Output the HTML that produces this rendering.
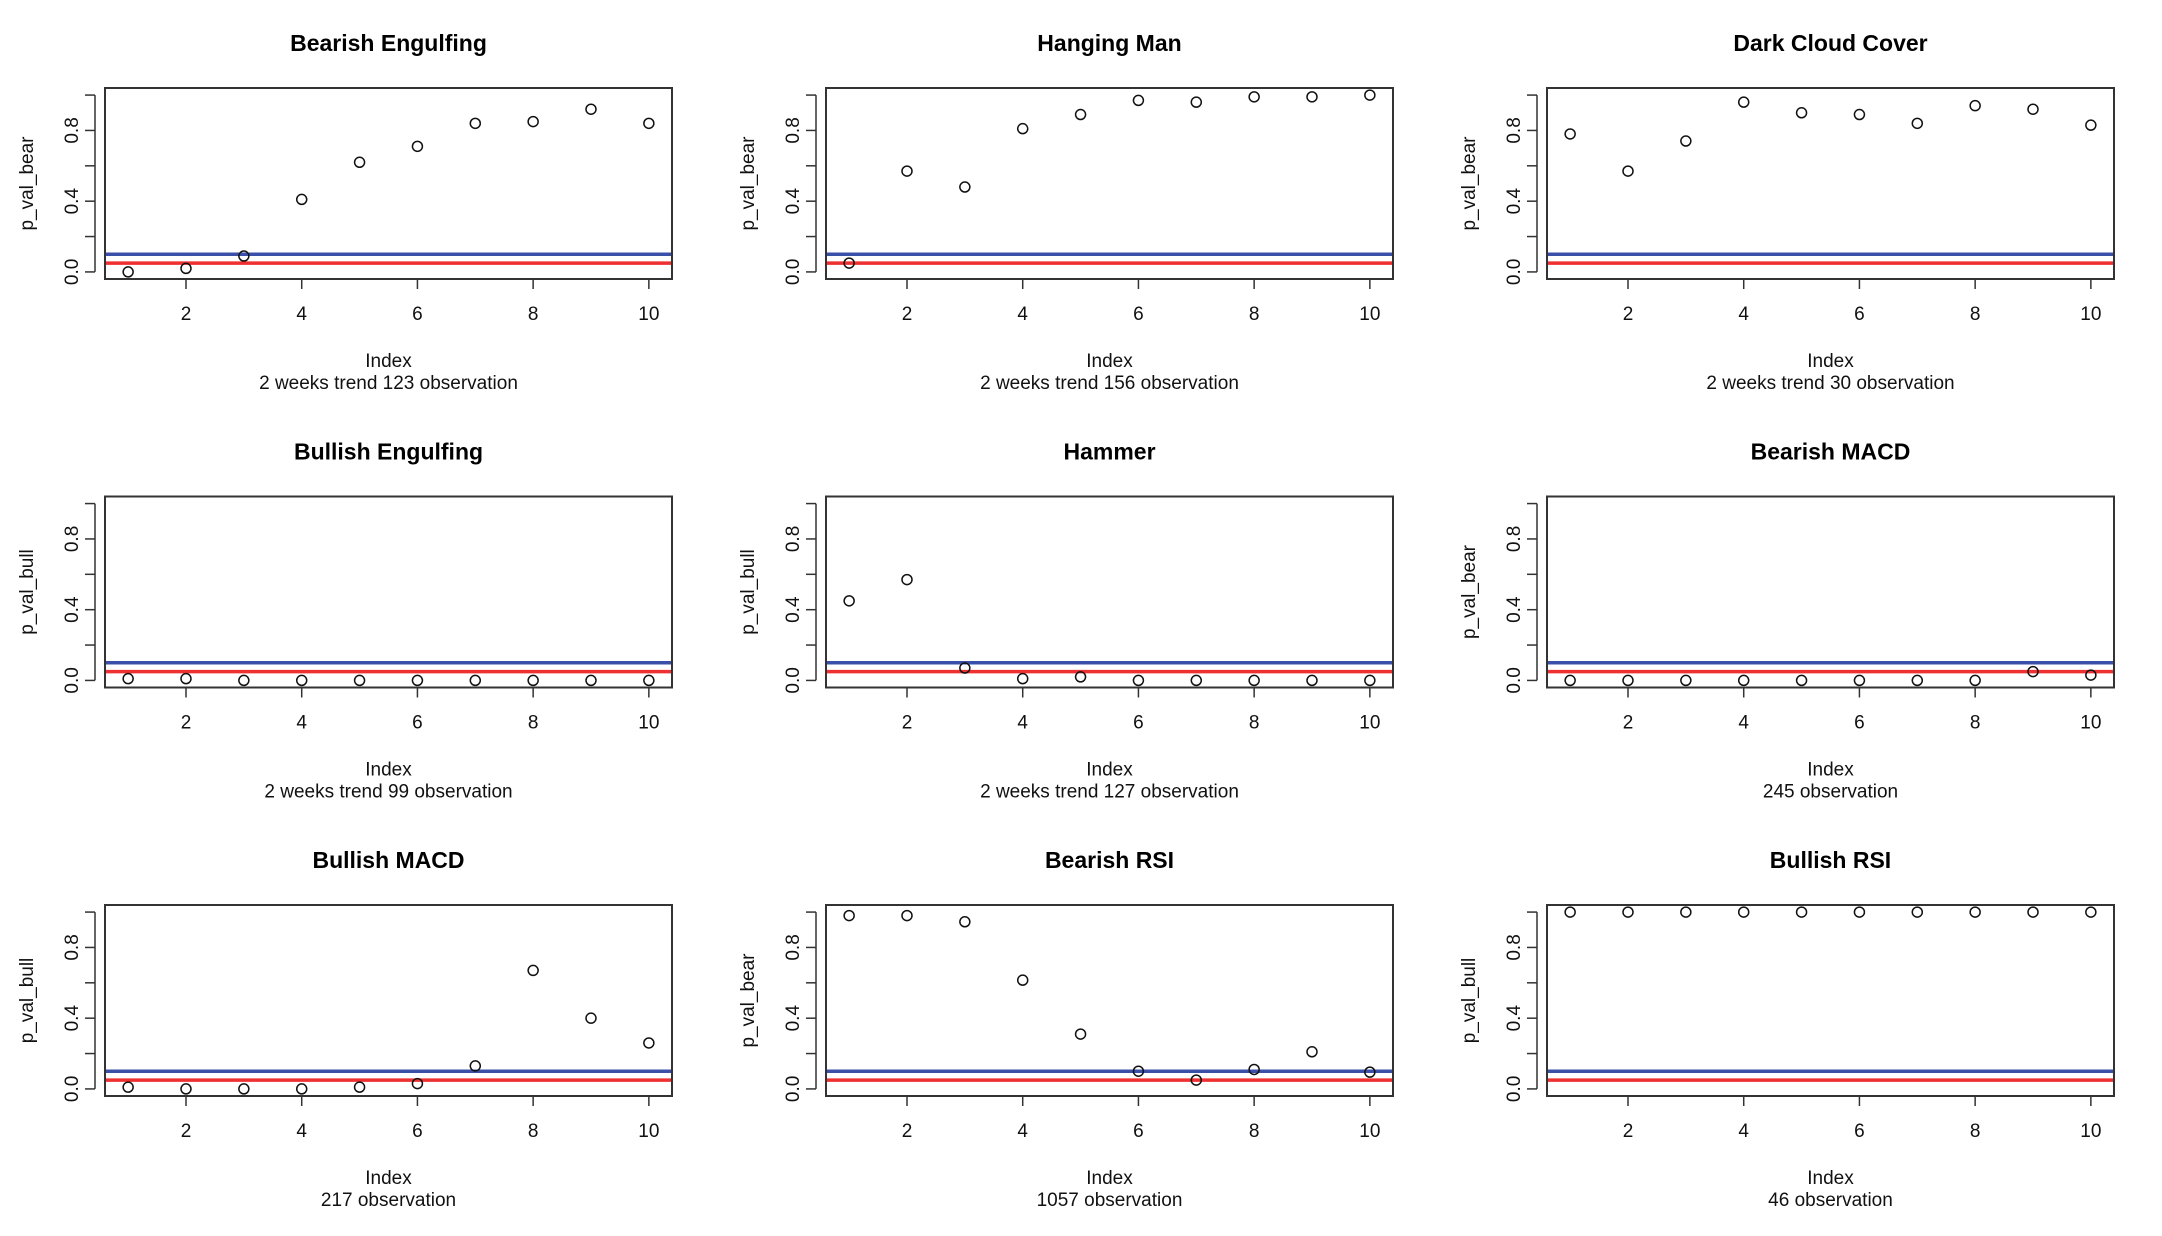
<!DOCTYPE html>
<html><head><meta charset="utf-8">
<style>
html,body{margin:0;padding:0;background:#fff;}
svg{display:block;font-family:"Liberation Sans",Arial,sans-serif;}
</style></head>
<body>
<svg id="chart" width="2162" height="1236" viewBox="0 0 2162 1236" xmlns="http://www.w3.org/2000/svg"></svg>
<script>
const titles = ["Bearish Engulfing","Hanging Man","Dark Cloud Cover","Bullish Engulfing","Hammer","Bearish MACD","Bullish MACD","Bearish RSI","Bullish RSI"];
const yLabels = ["p_val_bear","p_val_bear","p_val_bear","p_val_bull","p_val_bull","p_val_bear","p_val_bull","p_val_bear","p_val_bull"];
const subtitles = ["2 weeks trend 123 observation","2 weeks trend 156 observation","2 weeks trend 30 observation","2 weeks trend 99 observation","2 weeks trend 127 observation","245 observation","217 observation","1057 observation","46 observation"];
const xIndex = [1,2,3,4,5,6,7,8,9,10];
const valsBearishEngulfing = [0.0,0.02,0.09,0.41,0.62,0.71,0.84,0.85,0.92,0.84];
const valsHangingMan = [0.05,0.57,0.48,0.81,0.89,0.97,0.96,0.99,0.99,1.0];
const valsDarkCloud = [0.78,0.57,0.74,0.96,0.90,0.89,0.84,0.94,0.92,0.83];
const valsBullishEngulfing = [0.01,0.01,0.0,0.0,0.0,0.0,0.0,0.0,0.0,0.0];
const valsHammer = [0.45,0.57,0.07,0.01,0.02,0.0,0.0,0.0,0.0,0.0];
const valsBearishMACD = [0.0,0.0,0.0,0.0,0.0,0.0,0.0,0.0,0.05,0.03];
const valsBullishMACD = [0.01,0.0,0.0,0.0,0.01,0.03,0.13,0.67,0.40,0.26];
const valsBearishRSI = [0.98,0.98,0.945,0.615,0.31,0.10,0.05,0.11,0.21,0.095];
const valsBullishRSI = [1,1,1,1,1,1,1,1,1,1];
const series = [valsBearishEngulfing,valsHangingMan,valsDarkCloud,valsBullishEngulfing,valsHammer,valsBearishMACD,valsBullishMACD,valsBearishRSI,valsBullishRSI];
const xTicks = [2,4,6,8,10];
const yTicks = [0,0.2,0.4,0.6,0.8,1.0];
const yTickLabels = ["0.0","","0.4","","0.8",""];
const redLevel = 0.05;
const blueLevel = 0.1;

const NS = "http://www.w3.org/2000/svg";
const svg = document.getElementById("chart");
function mk(tag, attrs, parent, text){
  const e = document.createElementNS(NS, tag);
  for (const k in attrs) e.setAttribute(k, attrs[k]);
  if (text !== undefined) e.textContent = text;
  parent.appendChild(e);
  return e;
}
const colLeft = [105, 826, 1547];
const rowTop = [88, 496.5, 905];
const W = 567, H = 191;
const slug = s => s.toLowerCase().replace(/[^a-z0-9]+/g,'-');

for (let p = 0; p < 9; p++) {
  const L = colLeft[p%3], T = rowTop[Math.floor(p/3)];
  const sx = v => L + (v - 0.6) / 9.8 * W;
  const sy = v => T + H - (v + 0.04) / 1.08 * H;
  const g = mk("g", {}, svg);
  
  

  const t = mk("text", {x: L + W/2, y: 51, "text-anchor":"middle", "font-size":23, "font-weight":"bold", fill:"#000", transform:`translate(0 ${T-88})`}, g, titles[p]);
  
  

  // threshold lines
  const bl = mk("line", {x1:L, x2:L+W, y1:sy(blueLevel), y2:sy(blueLevel), stroke:"#3a4fa8", "stroke-width":3.5}, g);
  
  
  const rl = mk("line", {x1:L, x2:L+W, y1:sy(redLevel), y2:sy(redLevel), stroke:"#ee3030", "stroke-width":3.5}, g);
  
  

  // box
  const box = mk("rect", {x:L, y:T, width:W, height:H, fill:"none", stroke:"#333", "stroke-width":2}, g);
  
  

  // y axis
  const ya = mk("g", {}, g);
  
  
  mk("line", {x1:L-10, x2:L-10, y1:sy(yTicks[0]), y2:sy(yTicks[yTicks.length-1]), stroke:"#333", "stroke-width":1.5}, ya);
  yTicks.forEach((v,i) => {
    mk("line", {x1:L-10, x2:L-20, y1:sy(v), y2:sy(v), stroke:"#333", "stroke-width":1.5}, ya);
    if (yTickLabels[i]) {
      const tl = mk("text", {x:0, y:0, "text-anchor":"middle", "font-size":19, fill:"#111", transform:`translate(${L-27} ${sy(v)}) rotate(-90)`}, ya, yTickLabels[i]);
      
      
    }
  });
  const yl = mk("text", {x:0, y:0, "text-anchor":"middle", "font-size":19, fill:"#111", transform:`translate(${L-72} ${T+H/2}) rotate(-90)`}, g, yLabels[p]);
  
  

  // x axis
  const xa = mk("g", {}, g);
  
  
  xTicks.forEach(v => {
    mk("line", {x1:sx(v), x2:sx(v), y1:T+H, y2:T+H+10, stroke:"#333", "stroke-width":1.5}, xa);
    const tl = mk("text", {x:sx(v), y:T+H+41, "text-anchor":"middle", "font-size":19, fill:"#111"}, xa, String(v));
    
    
  });
  const xl = mk("text", {x:L+W/2, y:T+H+88, "text-anchor":"middle", "font-size":19, fill:"#111"}, g, "Index");
  
  
  const st = mk("text", {x:L+W/2, y:T+H+110, "text-anchor":"middle", "font-size":19, fill:"#111"}, g, subtitles[p]);
  
  

  // points
  series[p].forEach((v,i) => {
    const c = mk("circle", {cx:sx(xIndex[i]), cy:sy(v), r:5, fill:"none", stroke:"#111", "stroke-width":1.5}, g);
    
    
  });
}
</script>
</body></html>
